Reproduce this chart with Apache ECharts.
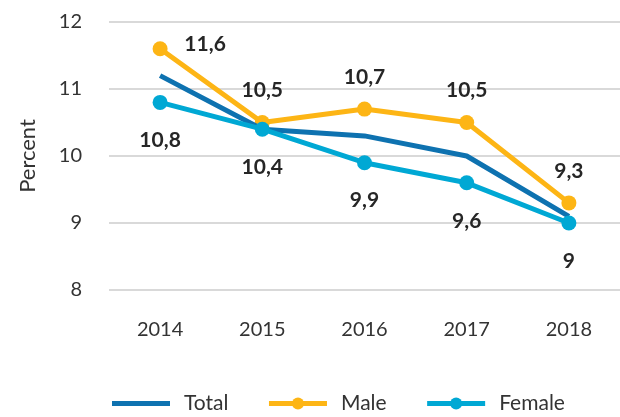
<!DOCTYPE html>
<html>
<head>
<meta charset="utf-8">
<script src="https://cdn.jsdelivr.net/npm/echarts@6/dist/echarts.min.js"></script>
<style>
    html, body { margin: 0; padding: 0; background: #fff; }
    #chart { width: 620px; height: 417px; }
</style>
</head>
<body>
<div id="chart"></div>
<script>
var years = ["2014", "2015", "2016", "2017", "2018"];
var totalValues = [11.2, 10.4, 10.3, 10.0, 9.1];
var maleValues = [11.6, 10.5, 10.7, 10.5, 9.3];
var femaleValues = [10.8, 10.4, 9.9, 9.6, 9.0];

var font = "Lato, 'Open Sans', sans-serif";
var labelStyle = {
    show: true,
    fontFamily: font,
    fontSize: 21,
    fontWeight: "bold",
    color: "#262626",
    formatter: function(p) {
        return String(p.value).replace(".", ",");
    }
};
var linePath = "path://M0,0 L58,0 L58,5 L0,5 Z";

var chart = echarts.init(document.getElementById("chart"));
var option = {
    animation: false,
    grid: { left: 109, right: 0, top: 22, bottom: 127 },
    legend: {
        bottom: -2,
        left: 107,
        itemWidth: 58,
        itemHeight: 15,
        itemGap: 38,
        lineStyle: { width: 5 },
        textStyle: { fontFamily: font, fontSize: 21, color: "#333", padding: [0, 0, 0, 9] },
        data: [
            { name: "Total", icon: linePath },
            { name: "Male" },
            { name: "Female" }
        ]
    },
    xAxis: {
        type: "category",
        data: years,
        axisLine: { show: false },
        axisTick: { show: false },
        axisLabel: { fontFamily: font, fontSize: 20, color: "#333", margin: 30 }
    },
    yAxis: {
        type: "value",
        min: 8,
        max: 12,
        interval: 1,
        name: "Percent",
        nameLocation: "middle",
        nameGap: 70,
        nameTextStyle: { fontFamily: font, fontSize: 22, color: "#333" },
        axisLabel: { fontFamily: font, fontSize: 20, color: "#333", margin: 27 },
        splitLine: { lineStyle: { color: "#d9d9d9", width: 2 } }
    },
    series: [
        {
            name: "Total",
            type: "line",
            data: totalValues,
            symbol: "none",
            lineStyle: { width: 5, color: "#0E72B0" },
            itemStyle: { color: "#0E72B0" },
            z: 3
        },
        {
            name: "Male",
            type: "line",
            data: maleValues,
            symbol: "circle",
            symbolSize: 15,
            lineStyle: { width: 5, color: "#FDB515" },
            itemStyle: { color: "#FDB515" },
            label: Object.assign({}, labelStyle, { position: "top", distance: 14 }),
            labelLayout: function(p) {
                if (p.dataIndex === 0) {
                    return { dx: 45, dy: 27 };
                }
                return {};
            },
            z: 2
        },
        {
            name: "Female",
            type: "line",
            data: femaleValues,
            symbol: "circle",
            symbolSize: 15,
            lineStyle: { width: 5, color: "#00A8D4" },
            itemStyle: { color: "#00A8D4" },
            label: Object.assign({}, labelStyle, { position: "bottom", distance: 20 }),
            z: 4
        }
    ]
};
chart.setOption(option);
</script>
</body>
</html>
